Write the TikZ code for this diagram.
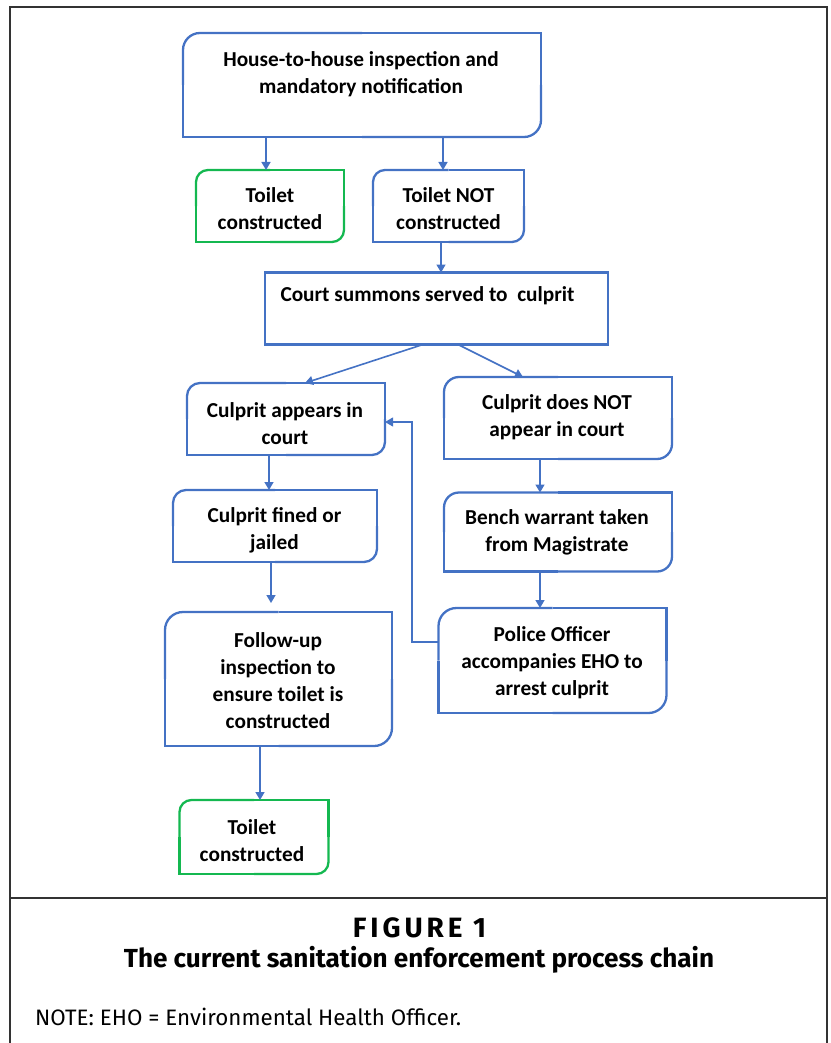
\documentclass[tikz,border=0pt]{standalone}
\usepackage{fontspec}
\setmainfont{Carlito}
\newfontfamily\capfont{Fira Sans}
\newfontfamily\capfontsp[LetterSpace=14]{Fira Sans}
\usetikzlibrary{arrows.meta}
\definecolor{bblue}{RGB}{68,114,196}
\definecolor{bgreen}{RGB}{20,184,80}
\definecolor{framegray}{RGB}{51,51,51}
\newcommand\diagoutline[3]{%
  \draw[#2, line width=2.3pt, rounded corners=#3] (#1.west) |- (#1.north) (#1.east) |- (#1.south);
  \draw[#2, line width=2.3pt] (#1.north) -| (#1.east) (#1.south) -| (#1.west);
}
\begin{document}
\begin{tikzpicture}[x=1pt,y=-1pt,
  box/.style={draw=none, inner sep=0pt, outer sep=0pt},
  txt/.style={align=center, inner sep=0pt, font=\fontsize{21.3}{27}\selectfont\bfseries},
  arr/.style={-{Triangle[length=8pt,width=9pt]}, draw=bblue, line width=1.6pt},
  fbarr/.style={-{Triangle[length=8pt,width=9pt]}, draw=bblue, line width=1.1pt},
  framel/.style={draw=framegray, line width=1.6pt}]
\useasboundingbox (0,0) rectangle (830,1043);
% frame
\coordinate (fbl) at (10,1043);
\coordinate (ftl) at (10,7);
\coordinate (ftr) at (827,7);
\coordinate (fbr) at (827,1043);
\coordinate (dl) at (10,898);
\coordinate (dr) at (827,898);
\draw[framel] (fbl) -- (ftl) -- (ftr) -- (fbr);
\draw[framegray, line width=1.3pt] (dl) -- (dr);

% boxes
\node[box, minimum width=358pt, minimum height=104pt] (h) at (362,85) {};
\node[box, minimum width=148pt, minimum height=72pt] (t1) at (270,206) {};
\node[box, minimum width=151pt, minimum height=72pt] (t2) at (448.5,206) {};
\node[box, minimum width=343pt, minimum height=72pt] (c) at (436.5,308.5) {};
\node[box, minimum width=198pt, minimum height=72pt] (a) at (286,419) {};
\node[box, minimum width=228pt, minimum height=82pt] (n) at (558,418) {};
\node[box, minimum width=204pt, minimum height=72pt] (f) at (275,526) {};
\node[box, minimum width=228pt, minimum height=79pt] (b) at (558,532) {};
\node[box, minimum width=227pt, minimum height=134pt] (u) at (278.5,679) {};
\node[box, minimum width=228pt, minimum height=105pt] (p) at (552.5,660.5) {};
\node[box, minimum width=149pt, minimum height=74pt] (t3) at (254,837) {};

\diagoutline{h}{bblue}{17pt}
\diagoutline{t1}{bgreen}{12pt}
\diagoutline{t2}{bblue}{12pt}
\draw[bblue, line width=2.3pt] (c.north west) rectangle (c.south east);
\diagoutline{a}{bblue}{13pt}
\diagoutline{n}{bblue}{15pt}
\diagoutline{f}{bblue}{13pt}
\diagoutline{b}{bblue}{15pt}
\diagoutline{u}{bblue}{18pt}
\diagoutline{p}{bblue}{18pt}
\diagoutline{t3}{bgreen}{12pt}

% texts
\node[txt] (ht) at (361,74.5) {House-to-house inspection and\\mandatory notification};
\node[txt] (t1t) at (270,209) {Toilet\\constructed};
\node[txt] (t2t) at (448.5,209) {Toilet NOT\\constructed};
\node[txt] (ct) at (427.5,296) {Court summons served to~ culprit};
\node[txt] (at) at (285,423.5) {Culprit appears in\\court};
\node[txt] (nt) at (557,417.5) {Culprit does NOT\\appear in court};
\node[txt] (ft) at (274.5,530) {Culprit fined or\\jailed};
\node[txt] (bt) at (557,532.5) {Bench warrant taken\\from Magistrate};
\node[txt] (ut) at (278,681) {Follow-up\\inspection to\\ensure toilet is\\constructed};
\node[txt] (pt) at (552,662.5) {Police Officer\\accompanies EHO to\\arrest culprit};
\node[txt] (t3t) at (252,840.5) {Toilet\\constructed};

% connector helper coordinates
\coordinate (x1) at (266,0);
\coordinate (x2) at (443,0);
\coordinate (x3) at (441,0);
\coordinate (x4) at (269,0);
\coordinate (x5) at (540,0);
\coordinate (x6) at (271,0);
\coordinate (x7) at (260,0);
\coordinate (fb1) at (412,642);
\coordinate (fb2) at (412,422);

\draw[arr] (h.south -| x1) -- (t1.north -| x1);
\draw[arr] (h.south -| x2) -- (t2.north -| x2);
\draw[arr] (t2.south -| x3) -- (c.north -| x3);
\draw[arr] ([xshift=-13.5pt]c.south) -- ([xshift=19pt]a.north);
\draw[arr] ([xshift=21.5pt]c.south) -- ([xshift=-35pt]n.north);
\draw[arr] (a.south -| x4) -- (f.north -| x4);
\draw[arr] (n.south -| x5) -- (b.north -| x5);
\draw[arr, shorten >=9pt] (f.south -| x6) -- (u.north -| x6);
\draw[arr] (b.south -| x5) -- (p.north -| x5);
\draw[arr] (u.south -| x7) -- (t3.north -| x7);
\draw[fbarr] (p.west |- fb1) -- (fb1) -- (fb2) -- (a.east |- fb2);

% caption
\node[inner sep=0pt] (cap1) at (419.5,928) {\resizebox{133pt}{!}{\capfontsp\bfseries FIGURE 1}};
\node[inner sep=0pt] (cap2) at (419,960) {\resizebox{590pt}{!}{\capfont\bfseries The current sanitation enforcement process chain}};
\node[inner sep=0pt, anchor=west] (note) at (35,1017) {\resizebox{426pt}{!}{\capfont NOTE: EHO = Environmental Health Officer.}};
\end{tikzpicture}
\end{document}
